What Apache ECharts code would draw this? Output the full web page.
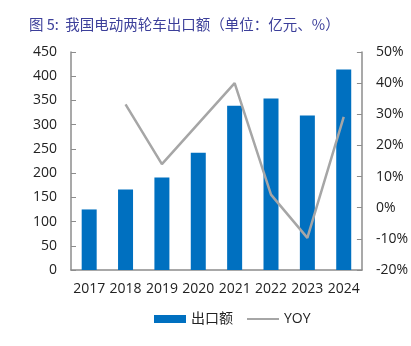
<!DOCTYPE html>
<html><head><meta charset="utf-8">
<script src="https://cdn.jsdelivr.net/npm/echarts@6/dist/echarts.min.js"></script>
<style>html,body{margin:0;padding:0;background:#fff}#c{width:411px;height:346px}</style>
</head><body><div id="c"></div>
<script>
const categories = ['2017','2018','2019','2020','2021','2022','2023','2024'];
const exportValues = [125, 166, 191, 242, 339, 354, 319, 414];
const yoyValues = [null, 33.2, 14.0, 27.0, 40.0, 4.2, -9.7, 29.2];
const leftTicks = [0, 450, 50];
const rightTicks = [-20, 50, 10];

const chart = echarts.init(document.getElementById('c'), null, {renderer: 'canvas'});
const font = '"Open Sans","Noto Sans CJK SC",sans-serif';
chart.setOption({
  animation: false,
  title: {
    text: '图 5:  我国电动两轮车出口额（单位：亿元、%）',
    left: 24, top: 12,
    textStyle: {color: '#3c3f9a', fontSize: 14.5, fontWeight: 'normal', fontFamily: '"Noto Sans CJK SC",sans-serif'}
  },
  grid: {left: 71, right: 38, top: 52, bottom: 76},
  legend: {
    bottom: 15, left: 149, itemGap: 13, itemWidth: 32, itemHeight: 8,
    textStyle: {color: '#222', fontSize: 14, fontFamily: font},
    data: [
      {name: '出口额', icon: 'rect'},
      {name: 'YOY', itemStyle: {opacity: 0}}
    ]
  },
  xAxis: {
    type: 'category', data: categories,
    axisLine: {lineStyle: {color: '#8c8c8c', width: 1.5}},
    axisTick: {inside: true, length: 5, lineStyle: {color: '#8c8c8c'}},
    axisLabel: {color: '#222', fontSize: 14, margin: 12, interval: 0, fontFamily: font}
  },
  yAxis: [
    {
      type: 'value', min: leftTicks[0], max: leftTicks[1], interval: leftTicks[2],
      axisLine: {show: true, lineStyle: {color: '#8c8c8c', width: 1.5}},
      axisTick: {show: true, inside: true, length: 5, lineStyle: {color: '#8c8c8c'}},
      splitLine: {show: false},
      axisLabel: {color: '#222', fontSize: 14, margin: 14, fontFamily: font}
    },
    {
      type: 'value', min: rightTicks[0], max: rightTicks[1], interval: rightTicks[2],
      position: 'right',
      axisLine: {show: true, lineStyle: {color: '#8c8c8c', width: 1.5}},
      axisTick: {show: true, inside: true, length: 5, lineStyle: {color: '#8c8c8c'}},
      splitLine: {show: false},
      axisLabel: {color: '#222', fontSize: 14, margin: 14, formatter: '{value}%', fontFamily: font}
    }
  ],
  series: [
    {
      name: '出口额', type: 'bar', data: exportValues, barWidth: 15,
      itemStyle: {color: '#0070c0'}
    },
    {
      name: 'YOY', type: 'line', yAxisIndex: 1, data: yoyValues,
      symbol: 'none', connectNulls: false,
      lineStyle: {color: '#a6a6a6', width: 2.5},
      itemStyle: {color: '#a6a6a6'}
    }
  ]
});
</script></body></html>
